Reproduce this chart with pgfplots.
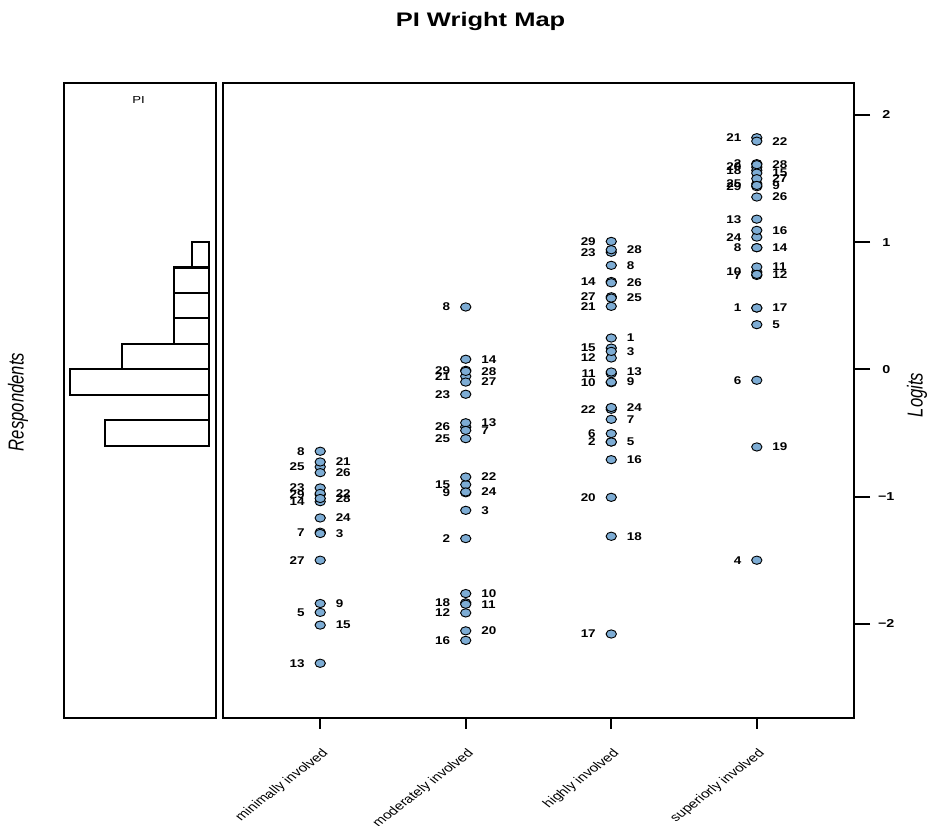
\documentclass[border=0pt]{standalone}
\usepackage{pgfplots}
\pgfplotsset{compat=1.18}
\usepackage{pgfplotstable}
\usepackage{fontspec}
\setmainfont{Liberation Sans}
\definecolor{ptfill}{RGB}{125,172,212}

% points whose label is on the left
\pgfplotstableread{
x y lab
1 -0.644 8
1 -0.767 25
1 -0.932 23
1 -0.985 29
1 -1.040 14
1 -1.280 7
1 -1.500 27
1 -1.910 5
1 -2.310 13
2 0.490 8
2 -0.008 29
2 -0.055 21
2 -0.196 23
2 -0.453 26
2 -0.545 25
2 -0.906 15
2 -0.970 9
2 -1.330 2
2 -1.835 18
2 -1.914 12
2 -2.130 16
3 1.005 29
3 0.920 23
3 0.690 14
3 0.570 27
3 0.495 21
3 0.167 15
3 0.089 12
3 -0.034 11
3 -0.105 10
3 -0.314 22
3 -0.505 6
3 -0.571 2
3 -1.006 20
3 -2.080 17
4 1.820 21
4 1.616 2
4 1.589 20
4 1.563 18
4 1.458 25
4 1.435 29
4 1.180 13
4 1.039 24
4 0.956 8
4 0.764 10
4 0.738 7
4 0.482 1
4 -0.086 6
4 -1.500 4
}\leftlab

% points whose label is on the right
\pgfplotstableread{
x y lab
1 -0.728 21
1 -0.812 26
1 -0.975 22
1 -1.015 28
1 -1.168 24
1 -1.290 3
1 -1.840 9
1 -2.010 15
2 0.079 14
2 -0.016 28
2 -0.100 27
2 -0.420 13
2 -0.480 7
2 -0.846 22
2 -0.964 24
2 -1.108 3
2 -1.762 10
2 -1.846 11
2 -2.055 20
3 0.940 28
3 0.817 8
3 0.680 26
3 0.560 25
3 0.246 1
3 0.141 3
3 -0.021 13
3 -0.100 9
3 -0.300 24
3 -0.393 7
3 -0.571 5
3 -0.710 16
3 -1.312 18
4 1.793 22
4 1.608 28
4 1.542 15
4 1.498 27
4 1.445 9
4 1.354 26
4 1.092 16
4 0.956 14
4 0.804 11
4 0.746 12
4 0.482 17
4 0.351 5
4 -0.610 19
}\rightlab

% respondents histogram (bin centre, count)
\pgfplotstableread{
y n
0.9 1
0.7 2
0.5 2
0.3 2
0.1 5
-0.1 8
-0.3 0
-0.5 6
}\hist

\begin{document}
\begin{tikzpicture}
\path[use as bounding box] (0pt,0pt) rectangle (695.25pt,618.75pt);

\begin{axis}[
  at={(48pt,80.25pt)}, anchor=south west,
  scale only axis, width=114pt, height=476.25pt,
  x dir=reverse, xmin=-0.4, xmax=8.37,
  ymin=-2.74, ymax=2.25,
  xtick=\empty, ytick=\empty,
  axis line style={line width=2.2pt},
]
\addplot[xbar, bar width=0.2, bar shift=0, draw=black, fill=white, line width=1.6pt]
  table[x=n, y=y]{\hist};
\end{axis}

\begin{axis}[
  at={(167.25pt,80.25pt)}, anchor=south west,
  scale only axis, width=473.25pt, height=476.25pt,
  xmin=0.332, xmax=4.668, ymin=-2.74, ymax=2.25,
  axis line style={line width=2.2pt},
  xtick={1,2,3,4},
  xticklabels={minimally involved, moderately involved, highly involved, superiorly involved},
  ytick={-2,-1,0,1,2},
  yticklabels={−2,−1,0,1,2},
  xtick pos=left, ytick pos=right, yticklabel pos=right,
  tick align=outside, major tick length=12pt,
  tick style={line width=1.6pt, black},
  xtick style={/pgfplots/major tick length=8pt},
  yticklabel style={font=\bfseries\fontsize{8.6}{10}\selectfont, xscale=1.25, anchor=center, xshift=9.75pt},
  xticklabel style={font=\fontsize{8.8}{11}\selectfont, xshift=7.5pt, yshift=-10.75pt, xscale=1.3, rotate=45, anchor=east},
  clip=false,
]
\addplot[only marks, mark=*, mark size=3.1pt,
  mark options={fill=ptfill, draw=black, line width=0.7pt, xscale=1.25},
  nodes near coords, point meta=explicit symbolic,
  every node near coord/.append style={anchor=east, xshift=-11.25pt, inner sep=0pt, text=black,
     font=\bfseries\fontsize{8.4}{9}\selectfont, xscale=1.2}]
  table[x=x, y=y, meta=lab]{\leftlab};
\addplot[only marks, mark=*, mark size=3.1pt,
  mark options={fill=ptfill, draw=black, line width=0.7pt, xscale=1.25},
  nodes near coords, point meta=explicit symbolic,
  every node near coord/.append style={anchor=west, xshift=11.25pt, inner sep=0pt, text=black,
     font=\bfseries\fontsize{8.4}{9}\selectfont, xscale=1.2}]
  table[x=x, y=y, meta=lab]{\rightlab};
\end{axis}

\node[font=\bfseries\fontsize{14.7}{17}\selectfont, xscale=1.3, anchor=base] at (360.4pt,598.7pt) {PI Wright Map};
\node[font=\itshape\fontsize{12.5}{15}\selectfont, xscale=1.3, rotate=90] at (13.5pt,317.25pt) {Respondents};
\node[font=\itshape\fontsize{12.5}{15}\selectfont, xscale=1.3, rotate=90] at (687.75pt,322.5pt) {Logits};
\node[font=\fontsize{7.6}{9}\selectfont, xscale=1.3] at (103.9pt,543.75pt) {PI};
\end{tikzpicture}
\end{document}
